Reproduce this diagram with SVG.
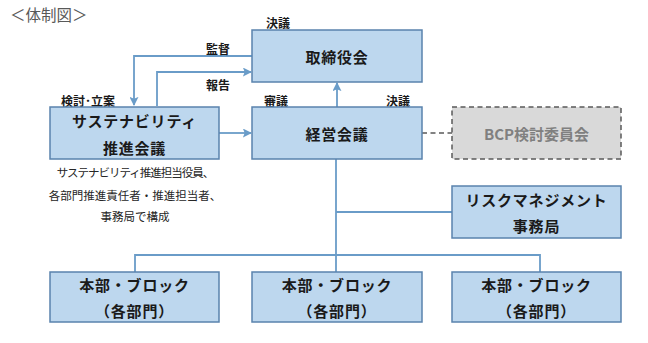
<svg xmlns="http://www.w3.org/2000/svg" width="648" height="343" viewBox="0 0 648 343">
<style>
.box{fill:#bdd7ee;stroke:#5a83ad;stroke-width:1.5}
.bcp{fill:#d9d9d9;stroke:#595959;stroke-width:1.5;stroke-dasharray:5,3.5}
.t{font-family:"Noto Sans CJK JP","Noto Sans",sans-serif;font-weight:bold;font-size:15px;fill:#1a1a1a;text-anchor:middle;dominant-baseline:central;letter-spacing:0.8px}
.g{fill:#808080;letter-spacing:0}
.lb{font-family:"Noto Sans CJK JP","Noto Sans",sans-serif;font-weight:bold;font-size:12px;fill:#1a1a1a;text-anchor:middle;dominant-baseline:central}
.s{font-family:"Noto Sans CJK JP","Noto Sans",sans-serif;font-size:11.5px;fill:#262626;text-anchor:middle;dominant-baseline:central}
.ln{fill:none;stroke:#6a9cc8;stroke-width:1.8}
.dl{fill:none;stroke:#595959;stroke-width:1.5;stroke-dasharray:5,3.5}
</style>
<defs>
<marker id="ah" viewBox="0 0 10 10" refX="9" refY="5" markerWidth="9" markerHeight="9" markerUnits="userSpaceOnUse" orient="auto">
<path d="M0,0 L10,5 L0,10 L2,5 Z" fill="#6a9cc8"/>
</marker>
</defs>
<rect width="648" height="343" fill="#ffffff"/>
<text x="10" y="14" font-family="Noto Sans CJK JP,sans-serif" font-size="15.5" fill="#595959" dominant-baseline="central">＜体制図＞</text>

<g id="connectors">
<path class="ln" d="M252,56 H134 V105" marker-end="url(#ah)"/>
<path class="ln" d="M157,106 V72 H251" marker-end="url(#ah)"/>
<path class="ln" d="M219,133 H251" marker-end="url(#ah)"/>
<path class="ln" d="M337,107 V83" marker-end="url(#ah)"/>
<path class="ln" d="M336,159 V255"/>
<path class="ln" d="M336,212 H452"/>
<path class="ln" d="M135,272 V255 H540 V272"/>
<path class="ln" d="M336,255 V272"/>
<path class="dl" d="M422,133 H452"/>
<text class="lb" x="278" y="22">決議</text>
<text class="lb" x="218" y="48">監督</text>
<text class="lb" x="218" y="84">報告</text>
<text class="lb" x="88" y="100">検討･立案</text>
<text class="lb" x="276" y="100">審議</text>
<text class="lb" x="398" y="100">決議</text>
</g>

<g id="board">
<rect class="box" x="252" y="30" width="170" height="52"/>
<text class="t" x="337" y="56">取締役会</text>
</g>

<g id="sustainability">
<rect class="box" x="50" y="107" width="169" height="52"/>
<text class="t" x="134.5" y="120">サステナビリティ</text>
<text class="t" x="134.5" y="147">推進会議</text>
<text class="s" x="135" y="172" letter-spacing="-1">サステナビリティ推進担当役員、</text>
<text class="s" x="135" y="195">各部門推進責任者・推進担当者、</text>
<text class="s" x="135" y="216">事務局で構成</text>
</g>

<g id="management">
<rect class="box" x="252" y="107" width="170" height="52"/>
<text class="t" x="337" y="133">経営会議</text>
</g>

<g id="bcp">
<rect class="bcp" x="452" y="107" width="169" height="52"/>
<text class="t g" x="536.5" y="133">BCP検討委員会</text>
</g>

<g id="risk">
<rect class="box" x="452" y="186" width="169" height="52"/>
<text class="t" x="536.5" y="199">リスクマネジメント</text>
<text class="t" x="536.5" y="225">事務局</text>
</g>

<g id="block1">
<rect class="box" x="50" y="272" width="169" height="50"/>
<text class="t" x="134.5" y="284">本部・ブロック</text>
<text class="t" x="134.5" y="310">（各部門）</text>
</g>
<g id="block2">
<rect class="box" x="252" y="272" width="170" height="50"/>
<text class="t" x="337" y="284">本部・ブロック</text>
<text class="t" x="337" y="310">（各部門）</text>
</g>
<g id="block3">
<rect class="box" x="452" y="272" width="169" height="50"/>
<text class="t" x="536.5" y="284">本部・ブロック</text>
<text class="t" x="536.5" y="310">（各部門）</text>
</g>
</svg>
